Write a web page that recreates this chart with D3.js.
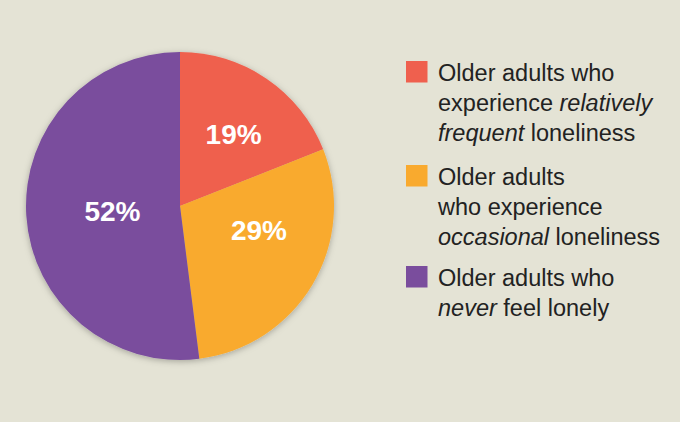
<!DOCTYPE html>
<meta charset="utf-8">
<html>
  <head>
    <style>
      body { margin: 0; background: #e4e3d5; }
      text.pct {
        font-family: "Liberation Sans", Arial, sans-serif;
        font-weight: bold;
        font-size: 28px;
        fill: #fff;
      }
      text.legend {
        font-family: "Liberation Sans", Arial, sans-serif;
        font-size: 23.5px;
        fill: #222;
      }
    </style>
    <script src="https://cdn.jsdelivr.net/npm/d3@7"></script>
  </head>
  <body>
    <div id="chart"></div>
    <script>
    // shares of older adults
    var categories = ["frequent", "occasional", "never"];
    var values = [19, 29, 52];
    var labels = ["19%", "29%", "52%"];
    var colors = ["#ef604e", "#f9aa2e", "#7a4d9d"];
    // legend lines: each line is a list of [text, italic?] runs
    var legendLines = [
      [ [["Older adults who", false]],
        [["experience ", false], ["relatively", true]],
        [["frequent", true], [" loneliness", false]] ],
      [ [["Older adults", false]],
        [["who experience", false]],
        [["occasional", true], [" loneliness", false]] ],
      [ [["Older adults who", false]],
        [["never", true], [" feel lonely", false]] ]
    ];

    var width = 680, height = 422,
        cx = 180, cy = 206, radius = 154;

    var svg = d3.select("#chart").append("svg")
        .attr("width", width)
        .attr("height", height);

    var defs = svg.append("defs");
    var f = defs.append("filter").attr("id", "shadow")
        .attr("x", "-20%").attr("y", "-20%").attr("width", "140%").attr("height", "140%");
    f.append("feDropShadow")
        .attr("dx", 0).attr("dy", 1.5)
        .attr("stdDeviation", 3)
        .attr("flood-color", "#000")
        .attr("flood-opacity", 0.28);

    var pie = d3.pie().sort(null).value(function(d) { return d; });
    var arcs = pie(values);

    var arc = d3.arc().innerRadius(0).outerRadius(radius);
    var labelArc = d3.arc().innerRadius(0).outerRadius(radius * 1.1);
    // small nudges so labels sit where the original puts them
    var nudge = [[6, -2], [6, -19], [17, 0]];

    var g = svg.append("g")
        .attr("transform", "translate(" + cx + "," + cy + ")");

    g.append("g").attr("filter", "url(#shadow)")
      .selectAll("path")
      .data(arcs)
      .enter().append("path")
        .attr("d", arc)
        .style("fill", function(d, i) { return colors[i]; });

    g.selectAll(".pct")
      .data(arcs)
      .enter().append("text")
        .attr("class", "pct")
        .attr("text-anchor", "middle")
        .attr("dy", "0.36em")
        .attr("transform", function(d, i) {
          var c = labelArc.centroid(d);
          return "translate(" + (c[0] + nudge[i][0]) + "," + (c[1] + nudge[i][1]) + ")";
        })
        .text(function(d, i) { return labels[i]; });

    // legend
    var legendTop = [61, 165, 266],
        lineH = 29.8,
        sw = 21.5;

    var legend = svg.selectAll(".legendItem")
      .data(categories)
      .enter().append("g")
        .attr("class", "legendItem")
        .attr("transform", function(d, i) { return "translate(406," + legendTop[i] + ")"; });

    legend.append("rect")
        .attr("width", sw)
        .attr("height", sw)
        .style("fill", function(d, i) { return colors[i]; });

    legend.each(function(d, i) {
      var t = d3.select(this).append("text")
          .attr("class", "legend")
          .attr("x", 32);
      legendLines[i].forEach(function(line, j) {
        line.forEach(function(run, k) {
          var ts = t.append("tspan")
              .style("font-style", run[1] ? "italic" : "normal")
              .text(run[0]);
          if (k === 0) ts.attr("x", 32).attr("y", 20 + j * lineH);
        });
      });
    });
    </script>
  </body>
</html>
